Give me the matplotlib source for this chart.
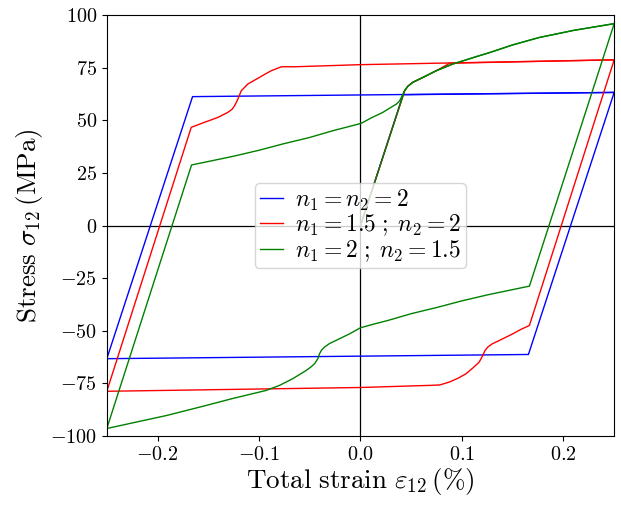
import matplotlib
matplotlib.use("Agg")
import matplotlib.pyplot as plt
from matplotlib.ticker import FuncFormatter

plt.rcParams['mathtext.fontset'] = 'cm'
plt.rcParams['font.family'] = ['cmr10', 'DejaVu Sans']
plt.rcParams['axes.unicode_minus'] = False

# ---- data (strain in %, stress in MPa) ----
# n1 = n2 = 2  (blue)
blue_init_x = [0.0, 0.042, 0.25]
blue_init_y = [0.0, 62.2, 63.3]
blue_loop_x = [0.25, 0.1655, -0.25, -0.1655, 0.25]
blue_loop_y = [63.3, -61.3, -63.3, 61.3, 63.3]

# n1 = 1.5 ; n2 = 2  (red)
red_init_x = [0.0, 0.0435, 0.0466, 0.0515, 0.0614, 0.0746, 0.088, 0.25]
red_init_y = [0.0, 64.1, 66.2, 68.1, 70.4, 73.6, 77.2, 78.8]
red_down_x = [0.25, 0.1665, 0.158, 0.150, 0.137, 0.130, 0.1254, 0.1225,
              0.1205, 0.117, 0.111, 0.104, 0.096, 0.0877, 0.078, 0.068,
              0.0, -0.25]
red_down_y = [78.8, -47.5, -49.4, -51.5, -54.6, -56.2, -57.8, -59.6,
              -61.8, -64.9, -67.6, -70.5, -72.6, -74.4, -75.8, -76.0,
              -77.0, -78.8]
red_up_x = [-0.25, -0.1668, -0.1537, -0.1406, -0.1308, -0.1265, -0.1241,
            -0.1220, -0.1202, -0.1175, -0.111, -0.1012, -0.094, -0.088,
            -0.078, -0.065, 0.0, 0.25]
red_up_y = [-78.8, 46.7, 49.1, 51.4, 53.8, 55.3, 57.0, 58.9, 60.9, 64.1,
            67.3, 70.0, 72.0, 73.6, 75.5, 75.5, 76.5, 78.8]

# n1 = 2 ; n2 = 1.5  (green)
green_init_x = [0.0, 0.0435, 0.0466, 0.0515, 0.0614, 0.0746, 0.091, 0.114,
                0.127, 0.150, 0.176, 0.21, 0.25]
green_init_y = [0.0, 64.1, 66.2, 68.1, 70.4, 73.6, 76.8, 80.3, 82.2, 85.9,
                89.4, 92.8, 96.0]
green_down_x = [0.25, 0.1665, 0.1257, 0.10, 0.0765, 0.05, 0.0272, 0.012,
                0.0, -0.0108, -0.024, -0.0305, -0.0355, -0.0385, -0.0404,
                -0.042, -0.0453, -0.0490, -0.0535, -0.0667, -0.0798, -0.093,
                -0.1257, -0.155, -0.191, -0.25]
green_down_y = [96.0, -28.8, -32.9, -35.8, -38.8, -41.9, -45.1, -47.0,
                -48.6, -51.5, -54.6, -56.1, -57.8, -59.3, -61.0,
                -63.3, -65.7, -67.3, -68.9, -72.8, -76.0, -78.4,
                -82.2, -85.9, -90.3, -96.5]
green_up_x = [-0.25, -0.1665, -0.1257, -0.10, -0.0765, -0.05, -0.0272,
              -0.012, 0.0007, 0.011, 0.022, 0.0290, 0.0355, 0.0385, 0.0404,
              0.0433, 0.0466, 0.0515, 0.0614, 0.0746, 0.091, 0.114, 0.127,
              0.150, 0.176, 0.21, 0.25]
green_up_y = [-96.5, 28.8, 32.9, 35.8, 38.8, 41.9, 45.1, 47.0, 48.6,
              51.3, 53.8, 55.9, 57.8, 59.3, 61.0, 64.1, 66.2, 68.1, 70.4,
              73.6, 76.8, 80.3, 82.2, 85.9, 89.4, 92.8, 96.0]

labels = [r'$n_1 = n_2 = 2$', r'$n_1 = 1.5\;;\;n_2 = 2$', r'$n_1 = 2\;;\;n_2 = 1.5$']
xticks = [-0.2, -0.1, 0.0, 0.1, 0.2]
yticks = [-100, -75, -50, -25, 0, 25, 50, 75, 100]

fig = plt.figure(figsize=(6.21, 5.08), dpi=100)
ax = fig.add_axes([0.172, 0.142, 0.817, 0.828])

ax.axhline(0, color='black', lw=0.9, zorder=1)
ax.axvline(0, color='black', lw=0.9, zorder=1)

lw = 1.0
ax.plot(blue_init_x, blue_init_y, color='blue', lw=lw, label=labels[0])
ax.plot(blue_loop_x, blue_loop_y, color='blue', lw=lw)
ax.plot(red_init_x, red_init_y, color='red', lw=lw, label=labels[1])
ax.plot(red_down_x, red_down_y, color='red', lw=lw)
ax.plot(red_up_x, red_up_y, color='red', lw=lw)
ax.plot(green_init_x, green_init_y, color='green', lw=lw, label=labels[2])
ax.plot(green_down_x, green_down_y, color='green', lw=lw)
ax.plot(green_up_x, green_up_y, color='green', lw=lw)

ax.set_xlim(-0.25, 0.25)
ax.set_ylim(-100, 100)
ax.set_xticks(xticks)
ax.set_yticks(yticks)

def fmt_x(v, pos):
    return r'$%.1f$' % v
def fmt_y(v, pos):
    return r'$%d$' % int(round(v))
ax.xaxis.set_major_formatter(FuncFormatter(fmt_x))
ax.yaxis.set_major_formatter(FuncFormatter(fmt_y))
ax.tick_params(labelsize=14.5)

ax.set_xlabel(r'$\mathrm{Total\ strain}\ \varepsilon_{12}\,(\%)$', fontsize=19.5, labelpad=2)
ax.set_ylabel(r'$\mathrm{Stress}\ \sigma_{12}\,(\mathrm{MPa})$', fontsize=19.5, labelpad=4)

ax.legend(loc='center', fontsize=17, handlelength=1.0, handletextpad=0.5,
          borderpad=0.2, labelspacing=0.0, borderaxespad=0.3)

fig.savefig('out.png', dpi=100)
